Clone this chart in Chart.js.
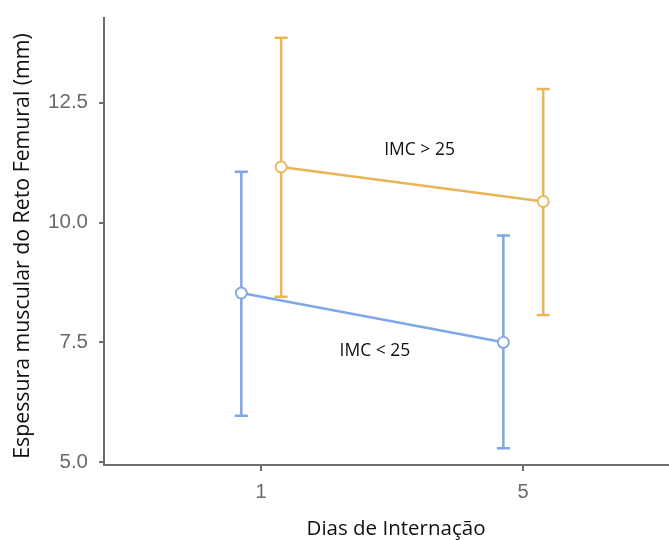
<!DOCTYPE html>
<html>
<head>
<meta charset="utf-8">
<script src="https://cdn.jsdelivr.net/npm/chart.js@4/dist/chart.umd.min.js"></script>
<style>
  html, body { margin: 0; padding: 0; background: #fff; }
  #wrap { width: 669px; height: 540px; }
</style>
</head>
<body>
<div id="wrap"><canvas id="c" width="669" height="540"></canvas></div>
<script>
// ---- data ----
const xLabels = ['1', '5'];
const xIndex = [0, 1];
const seriesNames = ['IMC < 25', 'IMC > 25'];
const lowMean = [8.53, 7.50];
const lowLo = [5.97, 5.29];
const lowHi = [11.06, 9.73];
const highMean = [11.16, 10.44];
const highLo = [8.45, 8.07];
const highHi = [13.86, 12.79];
const yTicks = [5.0, 7.5, 10.0, 12.5];

// ---- style ----
const BLUE = '#7fa7e6';
const ORANGE = '#e8b657';
const AXIS = '#6e6e6e';
const DODGE = [-0.075, 0.077];

function pts(means, dodge) {
  return xIndex.map((x, i) => ({ x: x + dodge, y: means[i] }));
}

const errorBars = {
  id: 'errorBars',
  beforeDatasetsDraw(chart) {
    const ctx = chart.ctx;
    const xs = chart.scales.x, ys = chart.scales.y;
    chart.data.datasets.forEach(ds => {
      ctx.save();
      ctx.strokeStyle = ds.borderColor;
      ctx.lineWidth = 2.5;
      ds.data.forEach((p, i) => {
        const px = xs.getPixelForValue(p.x);
        const y1 = ys.getPixelForValue(ds.lo[i]);
        const y2 = ys.getPixelForValue(ds.hi[i]);
        ctx.beginPath();
        ctx.moveTo(px, y1); ctx.lineTo(px, y2);
        ctx.moveTo(px - 6.5, y1); ctx.lineTo(px + 6.5, y1);
        ctx.moveTo(px - 6.5, y2); ctx.lineTo(px + 6.5, y2);
        ctx.stroke();
      });
      ctx.restore();
    });
  }
};

const texts = {
  id: 'texts',
  afterDraw(chart) {
    const ctx = chart.ctx;
    const xs = chart.scales.x, ys = chart.scales.y;
    ctx.save();
    ctx.fillStyle = '#111';
    ctx.textAlign = 'center';
    ctx.textBaseline = 'alphabetic';
    ctx.font = '20.5px "Open Sans"';
    ctx.fillText('Dias de Internação', 396, 535);
    ctx.save();
    ctx.translate(29, 246);
    ctx.rotate(-Math.PI / 2);
    ctx.font = '21.3px "Open Sans"';
    ctx.fillText('Espessura muscular do Reto Femural (mm)', 0, 0);
    ctx.restore();
    ctx.font = '17.5px "Open Sans"';
    ctx.textBaseline = 'middle';
    ctx.fillText(seriesNames[1], xs.getPixelForValue(0.605), ys.getPixelForValue(11.52));
    ctx.fillText(seriesNames[0], xs.getPixelForValue(0.435), ys.getPixelForValue(7.32));
    ctx.restore();
  }
};

new Chart(document.getElementById('c'), {
  type: 'line',
  data: {
    datasets: [
      {
        label: seriesNames[0],
        data: pts(lowMean, DODGE[0]),
        lo: lowLo, hi: lowHi,
        borderColor: BLUE, backgroundColor: '#fff',
        borderWidth: 2.5, pointRadius: 5.5, pointBorderWidth: 1.8,
        pointBackgroundColor: '#fff', pointBorderColor: BLUE
      },
      {
        label: seriesNames[1],
        data: pts(highMean, DODGE[1]),
        lo: highLo, hi: highHi,
        borderColor: ORANGE, backgroundColor: '#fff',
        borderWidth: 2.5, pointRadius: 5.5, pointBorderWidth: 1.8,
        pointBackgroundColor: '#fff', pointBorderColor: ORANGE
      }
    ]
  },
  options: {
    responsive: false,
    animation: false,
    layout: { autoPadding: false, padding: { top: 18, right: 0, left: 0, bottom: 0 } },
    plugins: { legend: { display: false }, tooltip: { enabled: false } },
    scales: {
      x: {
        type: 'linear',
        min: -0.599, max: 1.557,
        afterBuildTicks(s) { s.ticks = xIndex.map(v => ({ value: v })); },
        afterFit(s) { s.height = 75; s.paddingLeft = 0; s.paddingRight = 0; },
        ticks: {
          callback: (v, i) => xLabels[i],
          color: '#6a6a6a', font: { family: 'Liberation Sans', size: 20 }, padding: 9
        },
        grid: { drawOnChartArea: false, drawTicks: true, tickLength: 6, color: AXIS, lineWidth: 2 },
        border: { display: true, color: AXIS, width: 2 }
      },
      y: {
        type: 'linear',
        min: 4.94, max: 14.27,
        afterBuildTicks(s) { s.ticks = yTicks.map(v => ({ value: v })); },
        afterFit(s) { s.width = 104; s.paddingTop = 0; s.paddingBottom = 0; },
        ticks: {
          callback: v => Number(v).toFixed(1),
          color: '#6a6a6a', font: { family: 'Liberation Sans', size: 20.5 }, padding: 11
        },
        grid: { drawOnChartArea: false, drawTicks: true, tickLength: 5, color: AXIS, lineWidth: 2 },
        border: { display: true, color: AXIS, width: 2 }
      }
    }
  },
  plugins: [errorBars, texts]
});
</script>
</body>
</html>
